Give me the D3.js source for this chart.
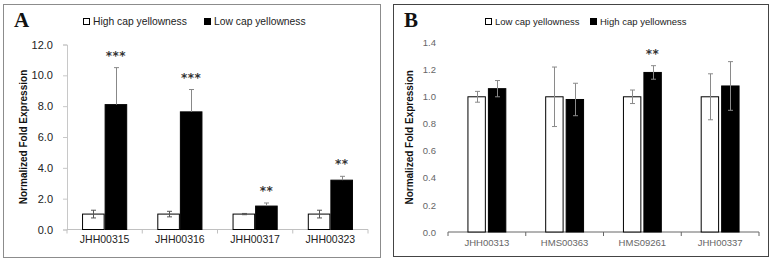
<!DOCTYPE html>
<html lang="en">
<head>
<meta charset="UTF-8">
<title>Fold expression</title>
<style>
    body { margin: 0; background: #fff; }
    svg { display: block; font-family: "Liberation Sans", Arial, sans-serif; }
    .panel-label { font-family: "Liberation Serif", "Times New Roman", serif; font-weight: bold; font-size: 21px; fill: #111; }
    .ytitle { font-weight: bold; font-size: 10px; fill: #111; }
    .star { font-family: "DejaVu Sans", sans-serif; font-weight: bold; font-size: 12px; letter-spacing: 0.5px; fill: #333; }
</style>
</head>
<body>
<svg id="chart" width="774" height="261"></svg>
<script src="https://d3js.org/d3.v7.min.js"></script>
<script>
    // panel A
    const genesA = ["JHH00315", "JHH00316", "JHH00317", "JHH00323"];
    const highA = [1.0, 1.0, 1.0, 1.0];
    const highErrA = [0.25, 0.18, 0.04, 0.25];
    const lowA = [8.1, 7.63, 1.52, 3.2];
    const lowErrA = [2.4, 1.45, 0.2, 0.25];
    const sigA = ["***", "***", "**", "**"];
    const ticksA = [0, 2, 4, 6, 8, 10, 12];

    // panel B
    const genesB = ["JHH00313", "HMS00363", "HMS09261", "JHH00337"];
    const lowB = [1.0, 1.0, 1.0, 1.0];
    const lowErrB = [0.04, 0.22, 0.05, 0.17];
    const highB = [1.06, 0.98, 1.18, 1.08];
    const highErrB = [0.06, 0.12, 0.05, 0.18];
    const sigB = ["", "", "**", ""];
    const ticksB = [0, 0.2, 0.4, 0.6, 0.8, 1.0, 1.2, 1.4];

    const svg = d3.select("#chart");

    function drawPanel(o) {
        const g = svg.append("g");

        g.append("rect")
            .attr("x", o.frame[0]).attr("y", o.frame[1])
            .attr("width", o.frame[2]).attr("height", o.frame[3])
            .attr("fill", "none").attr("stroke", o.frameColor);

        const y = d3.scaleLinear().domain(o.yDomain).range(o.yRange);
        const x = d3.scaleBand().domain(o.genes).range(o.xRange)
            .paddingInner(o.padIn).paddingOuter(o.padOut);
        const sub = d3.scaleBand().domain([0, 1]).range([0, x.bandwidth()]).paddingInner(o.subPad);

        // y axis
        const yAxis = g.append("g")
            .attr("transform", `translate(${o.xRange[0]},0)`)
            .call(d3.axisLeft(y).tickValues(o.ticks).tickFormat(d3.format(".1f"))
                .tickSize(o.yTick).tickPadding(o.yPad));
        yAxis.select(".domain").attr("stroke", o.yLine ? "#c8c8c8" : "none");
        yAxis.selectAll(".tick line").attr("stroke", "#c8c8c8");
        yAxis.selectAll("text").attr("font-size", o.tickFont).attr("fill", o.tickColor)
            .attr("font-family", "Liberation Sans, Arial, sans-serif");

        // x axis: line plus separators between groups
        const base = y(0);
        g.append("line")
            .attr("x1", o.xRange[0]).attr("x2", o.xRange[1])
            .attr("y1", base).attr("y2", base)
            .attr("stroke", o.xLineColor);
        const step = x.step();
        const edges = d3.range(o.genes.length + 1).map(i => x(o.genes[0]) - x.paddingOuter() * step + i * step);
        g.selectAll(".sep").data(edges).enter().append("line")
            .attr("x1", d => d).attr("x2", d => d)
            .attr("y1", base).attr("y2", base + 4)
            .attr("stroke", o.xLineColor);
        g.selectAll(".xl").data(o.genes).enter().append("text")
            .attr("x", d => x(d) + x.bandwidth() / 2)
            .attr("y", base + o.xLabelDy)
            .attr("text-anchor", "middle")
            .attr("font-size", o.xFont)
            .attr("fill", o.tickColor)
            .text(d => d);

        const series = [
            { vals: o.s0, errs: o.e0, fill: "#fff", both: true },
            { vals: o.s1, errs: o.e1, fill: "#000", both: o.blackBoth }
        ];

        series.forEach((s, k) => {
            g.selectAll(".bar" + k).data(o.genes).enter().append("rect")
                .attr("x", (d, i) => x(d) + sub(k) + 0.5)
                .attr("y", (d, i) => y(s.vals[i]))
                .attr("width", sub.bandwidth() - 1)
                .attr("height", (d, i) => base - y(s.vals[i]))
                .attr("fill", s.fill)
                .attr("stroke", "#000").attr("stroke-width", 1);
        });

        series.forEach((s, k) => {
            o.genes.forEach((d, i) => {
                const cx = Math.round(x(d) + sub(k) + sub.bandwidth() / 2) + 0.5;
                const top = y(s.vals[i] + s.errs[i]);
                const bot = s.both ? y(s.vals[i] - s.errs[i]) : y(s.vals[i]);
                const col = k === 0 ? o.errColor0 : o.errColor1;
                g.append("line").attr("x1", cx).attr("x2", cx).attr("y1", top).attr("y2", bot)
                    .attr("stroke", col);
                g.append("line").attr("x1", cx - 2.5).attr("x2", cx + 2.5).attr("y1", top).attr("y2", top)
                    .attr("stroke", col);
                if (s.both) {
                    g.append("line").attr("x1", cx - 2.5).attr("x2", cx + 2.5).attr("y1", bot).attr("y2", bot)
                        .attr("stroke", col);
                }
            });
        });

        // significance stars over the second series
        g.selectAll(".star").data(o.genes).enter().append("text")
            .attr("class", "star")
            .attr("x", d => x(d) + sub(1) + sub.bandwidth() / 2)
            .attr("y", (d, i) => y(o.s1[i] + o.e1[i]) - 8)
            .attr("text-anchor", "middle")
            .text((d, i) => o.sig[i]);

        // y title
        const ymid = (o.yRange[0] + o.yRange[1]) / 2;
        g.append("text").attr("class", "ytitle")
            .attr("transform", `translate(${o.titleX},${ymid}) rotate(-90)`)
            .attr("text-anchor", "middle")
            .text("Normalized Fold Expression");

        // panel letter
        g.append("text").attr("class", "panel-label")
            .attr("x", o.letterPos[0]).attr("y", o.letterPos[1])
            .text(o.letter);

        // legend
        o.legend.forEach((l, k) => {
            g.append("rect")
                .attr("x", l.x + 0.5).attr("y", 18.5).attr("width", 6).attr("height", 6)
                .attr("fill", k === 0 ? "#fff" : "#000").attr("stroke", "#000");
            g.append("text")
                .attr("x", l.x + 10).attr("y", 25)
                .attr("font-size", o.legendFont).attr("fill", "#222")
                .text(l.text);
        });
    }

    drawPanel({
        frame: [3.5, 4.5, 377, 253], frameColor: "#8c8c8c",
        genes: genesA, s0: highA, e0: highErrA, s1: lowA, e1: lowErrA, sig: sigA,
        ticks: ticksA, yDomain: [0, 12], yRange: [229.5, 44.5],
        xRange: [67, 368], padIn: 0.4, padOut: 0.2, subPad: 0,
        yTick: 4, yPad: 10, yLine: true, tickFont: "11px", tickColor: "#222",
        xLineColor: "#c0c0c0", xLabelDy: 13, xFont: "10.5px",
        errColor0: "#555", errColor1: "#888", blackBoth: false,
        titleX: 27, letter: "A", letterPos: [14, 27],
        legend: [{ x: 83, text: "High cap yellowness" }, { x: 204, text: "Low cap yellowness" }],
        legendFont: "10.3px"
    });

    drawPanel({
        frame: [393.5, 4.5, 375, 252], frameColor: "#444",
        genes: genesB, s0: lowB, e0: lowErrB, s1: highB, e1: highErrB, sig: sigB,
        ticks: ticksB, yDomain: [0, 1.4], yRange: [232, 42.7],
        xRange: [448, 759], padIn: 0.5, padOut: 0.25, subPad: 0.1,
        yTick: 0, yPad: 12, yLine: false, tickFont: "9.5px", tickColor: "#666",
        xLineColor: "#666", xLabelDy: 14, xFont: "9.5px",
        errColor0: "#8a8a8a", errColor1: "#8a8a8a", blackBoth: true,
        titleX: 413, letter: "B", letterPos: [404, 27],
        legend: [{ x: 485, text: "Low cap yellowness" }, { x: 590, text: "High cap yellowness" }],
        legendFont: "9.5px"
    });
</script>
</body>
</html>
